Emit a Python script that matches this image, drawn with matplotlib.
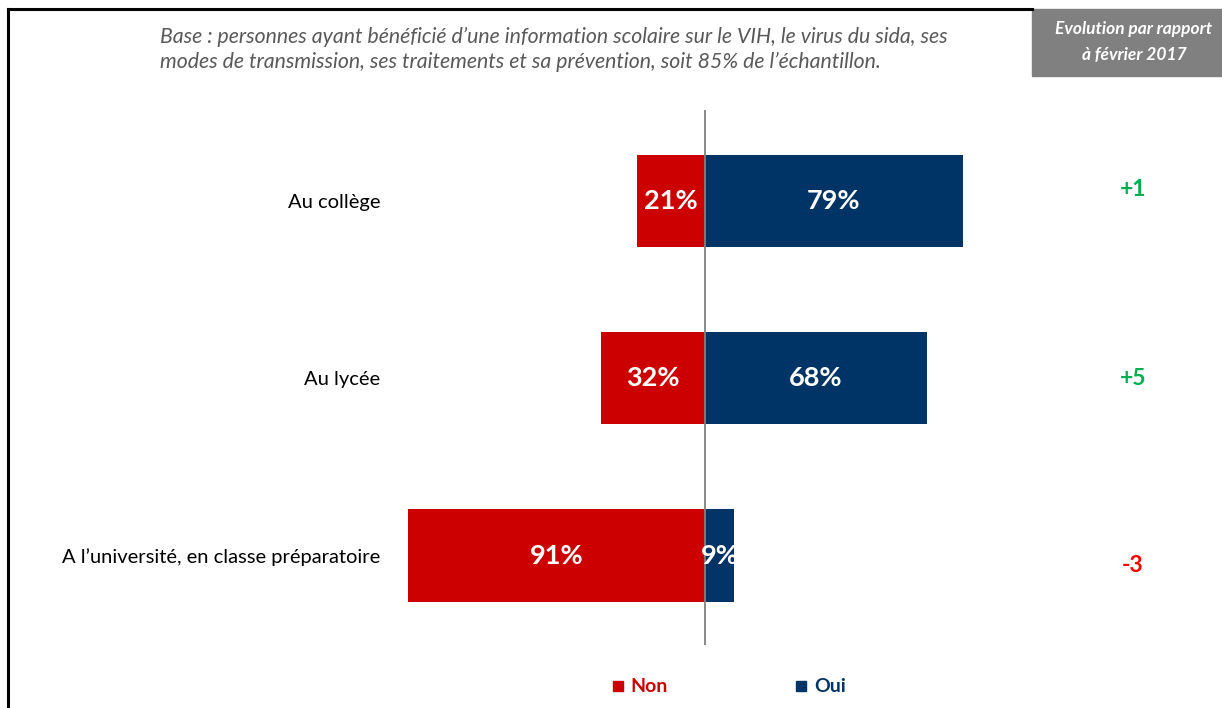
import matplotlib.pyplot as plt
from matplotlib.lines import Line2D
from matplotlib.patches import Rectangle
from matplotlib.transforms import blended_transform_factory

plt.rcParams['font.family'] = ['Lato', 'DejaVu Sans']

# données
categories = ['Au collège', 'Au lycée', 'A l’université, en classe préparatoire']
non = [21, 32, 91]
oui = [79, 68, 9]
evolution = ['+1', '+5', '-3']
evo_colors = ['#00B050', '#00B050', '#FF0000']

red = '#CC0000'
navy = '#003366'

W, H = 1222, 708
fig = plt.figure(figsize=(W / 100, H / 100), dpi=100)

# axe placé en pixels : zéro à x=705, 3.26 px par point
ax_l, ax_r, ax_t, ax_b = 390, 1000, 110, 645
ax = fig.add_axes([ax_l / W, 1 - ax_b / H, (ax_r - ax_l) / W, (ax_b - ax_t) / H])
scale = 3.26
ax.set_xlim(-(705 - ax_l) / scale, (ax_r - 705) / scale)
step = 177.25
ax.set_ylim(2 + (ax_b - 555.5) / step, -(201 - ax_t) / step)

y = list(range(len(categories)))
neg = [-v for v in non]
ax.barh(y, neg, height=0.52, color=red)
ax.barh(y, oui, height=0.52, color=navy)
ax.axvline(0, color='#808080', lw=1.3)

# colonne d'évolution : x en fraction de figure, y en données (léger décalage vertical)
evo_tr = blended_transform_factory(fig.transFigure, ax.transData)
evo_dy = [-0.065, 0, 0.055]
for i in y:
    ax.text(neg[i] / 2, i, f'{non[i]}%', color='white', fontsize=19.5, fontweight='bold',
            ha='center', va='center')
    ax.text(oui[i] / 2, i, f'{oui[i]}%', color='white', fontsize=19.5, fontweight='bold',
            ha='center', va='center')
    ax.text(1133 / W, i + evo_dy[i], evolution[i], color=evo_colors[i], fontsize=16.5,
            fontweight='bold', ha='center', va='center', transform=evo_tr)

ax.set_yticks(y)
ax.set_yticklabels(categories, fontsize=14.5)
ax.tick_params(axis='y', length=0, pad=7)
ax.set_xticks([])
for s in ax.spines.values():
    s.set_visible(False)

# texte de base
fig.text(160 / W, 1 - 37 / H, 'Base : personnes ayant bénéficié d’une information scolaire sur le VIH, le virus du sida, ses',
         fontsize=15.3, style='italic', color='#595959', va='center')
fig.text(160 / W, 1 - 62 / H, 'modes de transmission, ses traitements et sa prévention, soit 85% de l’échantillon.',
         fontsize=15.3, style='italic', color='#595959', va='center')

# encadré gris
fig.patches.append(Rectangle((1032 / W, 1 - 76 / H), (W - 1032) / W, 67 / H,
                             transform=fig.transFigure, color='#808080'))
fig.text(1134 / W, 1 - 29 / H, 'Evolution par rapport', fontsize=12.5, style='italic', fontweight='bold',
         color='white', ha='center', va='center')
fig.text(1134 / W, 1 - 55 / H, 'à février 2017', fontsize=12.5, style='italic', fontweight='bold',
         color='white', ha='center', va='center')

# bordure
fig.lines.append(Line2D([8 / W, 8 / W], [0, 1 - 9 / H], transform=fig.transFigure, color='black', lw=2.2))
fig.lines.append(Line2D([8 / W, 1032 / W], [1 - 9 / H, 1 - 9 / H], transform=fig.transFigure, color='black', lw=2.2))

# légende
handles = [Line2D([], [], marker='s', ls='', color=red, markersize=7.5),
           Line2D([], [], marker='s', ls='', color=navy, markersize=7.5)]
leg = fig.legend(handles, ['Non', 'Oui'], loc='center', bbox_to_anchor=(728 / W, 1 - 687 / H),
                 ncol=2, frameon=False, handletextpad=0.25, columnspacing=6.45, handlelength=0.8,
                 prop={'weight': 'bold', 'size': 14})
for t, c in zip(leg.get_texts(), [red, navy]):
    t.set_color(c)

plt.savefig('out.png', dpi=100)
